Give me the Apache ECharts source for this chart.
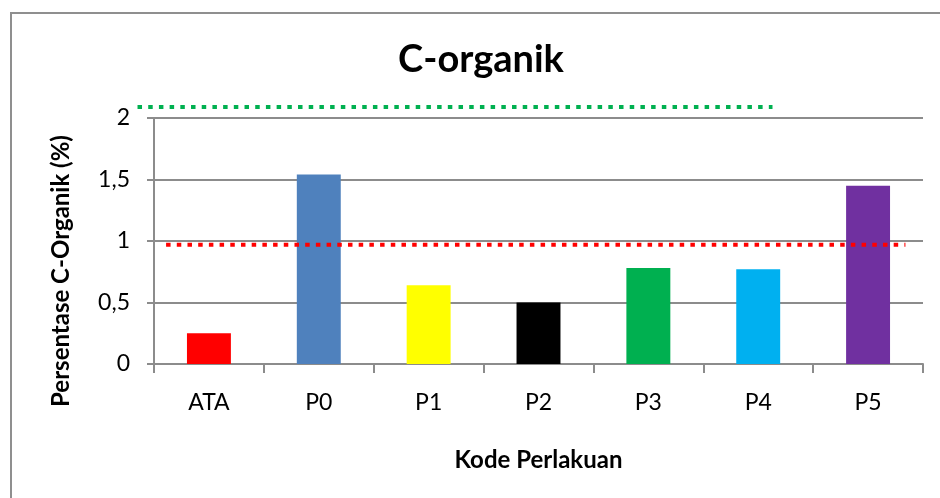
<!DOCTYPE html>
<html>
<head>
<meta charset="utf-8">
<script src="https://cdn.jsdelivr.net/npm/echarts@6/dist/echarts.min.js"></script>
<style>
  html, body { margin: 0; padding: 0; background: #fff; overflow: hidden; }
  #frame { position: absolute; left: 10px; top: 12px; width: 960px; height: 520px; border: 2px solid #8f8f8f; box-sizing: border-box; }
  #chart { position: absolute; left: 0; top: 0; width: 940px; height: 498px; }
</style>
</head>
<body>
<div id="frame"></div>
<div id="chart"></div>
<script>
// data
const categories = ["ATA", "P0", "P1", "P2", "P3", "P4", "P5"];
const values = [0.25, 1.54, 0.64, 0.50, 0.78, 0.77, 1.45];
const barColors = ["#ff0000", "#4f81bd", "#ffff00", "#000000", "#00b050", "#00b0f0", "#7030a0"];
const yTicks = [0, 0.5, 1, 1.5, 2];

// dotted reference lines, x in category units (0 = left edge of plot)
const greenLine = [[-0.15, 2.09], [5.63, 2.09]];
const redLine = [[0.11, 0.97], [6.84, 0.97]];

const font = "Lato";
const gray = "#8c8c8c";

// plot box
const gridLeft = 154, gridRight = 17, gridTop = 118, gridBottom = 134;
const unit = (940 - gridLeft - gridRight) / categories.length;

const chart = echarts.init(document.getElementById("chart"));

const option = {
  animation: false,
  backgroundColor: "transparent",
  title: {
    text: "C-organik",
    left: 476,
    textAlign: "center",
    top: 36,
    textStyle: { fontFamily: font, fontSize: 38, fontWeight: "bold", color: "#000" }
  },
  grid: [
    { left: gridLeft, right: gridRight, top: gridTop, bottom: gridBottom },
    // same plot, one category wider on the left, so lines may start left of the axis
    { left: gridLeft - unit, right: gridRight, top: gridTop, bottom: gridBottom }
  ],
  xAxis: [
    {
      type: "category",
      data: categories,
      boundaryGap: true,
      axisLine: { lineStyle: { color: gray, width: 2 } },
      axisTick: { show: true, length: 9, lineStyle: { color: gray, width: 2 } },
      axisLabel: { fontFamily: font, fontSize: 23, color: "#000", margin: 27 },
      name: "Kode Perlakuan",
      nameLocation: "middle",
      nameGap: 84,
      nameTextStyle: { fontFamily: font, fontSize: 24, fontWeight: "bold", color: "#000" }
    },
    {
      type: "value",
      gridIndex: 1,
      min: -1,
      max: categories.length,
      show: false
    }
  ],
  yAxis: [
    {
      type: "value",
      min: yTicks[0],
      max: yTicks[yTicks.length - 1],
      interval: 0.5,
      axisLine: { show: true, lineStyle: { color: gray, width: 2 } },
      axisTick: { show: true, length: 7, lineStyle: { color: gray, width: 2 } },
      splitLine: { lineStyle: { color: gray, width: 2 } },
      axisLabel: {
        fontFamily: font, fontSize: 23, color: "#000", margin: 24,
        formatter: v => String(v).replace(".", ",")
      },
      name: "Persentase C-Organik (%)",
      nameLocation: "middle",
      nameRotate: 90,
      nameGap: 81,
      nameTextStyle: { fontFamily: font, fontSize: 24, fontWeight: "bold", color: "#000", padding: [0, 60, 0, 0] }
    },
    {
      type: "value",
      gridIndex: 1,
      min: yTicks[0],
      max: yTicks[yTicks.length - 1],
      show: false
    }
  ],
  series: [
    {
      type: "bar",
      barWidth: "40%",
      data: values.map((v, i) => ({ value: v, itemStyle: { color: barColors[i] } }))
    },
    {
      type: "line",
      xAxisIndex: 1,
      yAxisIndex: 1,
      clip: false,
      symbol: "none",
      data: redLine,
      lineStyle: { color: "#ff0000", width: 4, type: [4.5, 6.2], cap: "butt" },
      z: 5
    },
    {
      type: "line",
      xAxisIndex: 1,
      yAxisIndex: 1,
      clip: false,
      symbol: "none",
      data: greenLine,
      lineStyle: { color: "#00b050", width: 4, type: [4.5, 6.2], cap: "butt" },
      z: 5
    }
  ]
};

chart.setOption(option);
</script>
</body>
</html>
